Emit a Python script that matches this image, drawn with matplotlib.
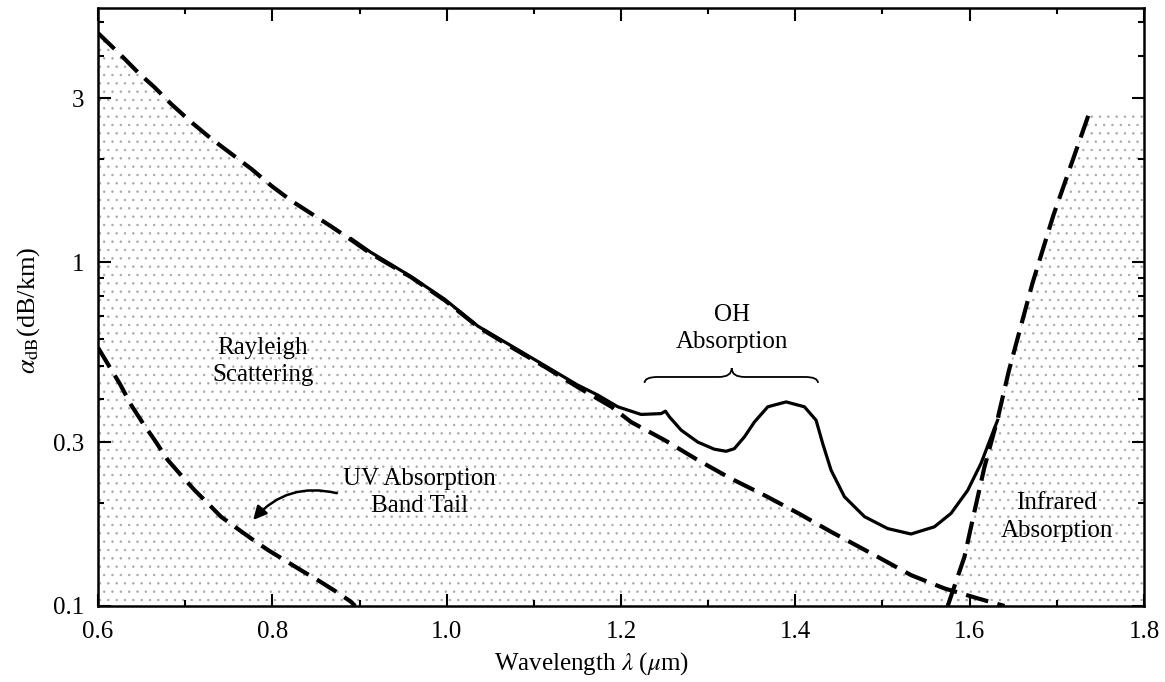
# Fibre loss spectrum: Rayleigh, UV and IR limits plus measured loss
import numpy as np
import matplotlib.pyplot as plt
from matplotlib.path import Path
from matplotlib.patches import PathPatch

plt.rcParams['font.family'] = ['Liberation Serif', 'DejaVu Serif']
plt.rcParams['mathtext.fontset'] = 'stix'
plt.rcParams['hatch.color'] = '#a6a6a6'
plt.rcParams['hatch.linewidth'] = 0.5

# values (wavelength in um, loss in dB/km)
rayleigh_wl = [0.600, 0.625, 0.646, 0.665, 0.684, 0.707, 0.730, 0.753, 0.776, 0.799,
               0.822, 0.845, 0.868, 0.891, 0.913, 0.959, 0.998, 1.036, 1.074, 1.113,
               1.150, 1.189, 1.2116, 1.250, 1.288, 1.326, 1.3646, 1.4037, 1.441,
               1.4945, 1.5327, 1.571, 1.609, 1.640]
rayleigh_db = [4.65, 4.04, 3.57, 3.23, 2.89, 2.56, 2.29, 2.07, 1.87, 1.67,
               1.51, 1.385, 1.27, 1.16, 1.06, 0.906, 0.775, 0.649, 0.567, 0.496,
               0.434, 0.380, 0.343, 0.304, 0.266, 0.235, 0.210, 0.186, 0.1644,
               0.139, 0.123, 0.1125, 0.1053, 0.100]

uv_wl = [0.600, 0.6134, 0.6249, 0.6382, 0.6516, 0.665, 0.680, 0.6955, 0.711, 0.726,
         0.741, 0.757, 0.776, 0.795, 0.814, 0.833, 0.852, 0.871, 0.890, 0.895]
uv_db = [0.565, 0.496, 0.444, 0.384, 0.340, 0.304, 0.266, 0.240, 0.217, 0.199,
         0.182, 0.170, 0.157, 0.1455, 0.136, 0.127, 0.119, 0.111, 0.103, 0.100]

ir_wl = [1.5748, 1.594, 1.605, 1.617, 1.632, 1.645, 1.672, 1.696, 1.719, 1.738]
ir_db = [0.100, 0.139, 0.186, 0.254, 0.350, 0.484, 0.869, 1.37, 2.01, 2.76]

total_wl = [0.891, 0.913, 0.959, 0.998, 1.036, 1.074, 1.113, 1.150, 1.1734, 1.1963,
            1.223, 1.246, 1.251, 1.2556, 1.269, 1.288, 1.307, 1.3206, 1.330, 1.3416,
            1.353, 1.3684, 1.3894, 1.4104, 1.4238, 1.4314, 1.441, 1.4563, 1.4793,
            1.506, 1.5327, 1.5595, 1.5786, 1.5977, 1.613, 1.6245, 1.632]
total_db = [1.17, 1.07, 0.91, 0.78, 0.652, 0.572, 0.500, 0.440, 0.411, 0.380,
            0.361, 0.363, 0.369, 0.355, 0.325, 0.300, 0.286, 0.282, 0.287, 0.3106,
            0.343, 0.380, 0.3926, 0.380, 0.3473, 0.297, 0.2485, 0.208, 0.182,
            0.168, 0.162, 0.170, 0.186, 0.217, 0.260, 0.310, 0.347]

fig = plt.figure(figsize=(11.65, 6.82), dpi=100)
ax = fig.add_axes([98/1165, 1-606/682, 1046/1165, 598/682])
ax.set_yscale('log')
ax.set_xlim(0.6, 1.8)
ax.set_ylim(0.1, 5.5)

# stippled regions
ax.fill_between(rayleigh_wl, 0.1, rayleigh_db, facecolor='none', edgecolor='#a6a6a6',
                hatch='..', linewidth=0, zorder=0)
ax.fill_betweenx(ir_db, ir_wl, 1.8, facecolor='none', edgecolor='#a6a6a6',
                 hatch='..', linewidth=0, zorder=0)

dash = (5.5, 2.3)
ax.plot(rayleigh_wl, rayleigh_db, color='black', lw=3, dashes=dash, zorder=2)
ax.plot(uv_wl, uv_db, color='black', lw=3, dashes=dash, zorder=2)
ax.plot(ir_wl, ir_db, color='black', lw=3, dashes=dash, zorder=2)
ax.plot(total_wl, total_db, color='black', lw=2.3, zorder=3, solid_joinstyle='round')

# labels
fs = 18
ax.text(0.789, 0.515, 'Rayleigh\nScattering', ha='center', va='center', fontsize=fs,
        linespacing=1.3)
ax.text(1.327, 0.643, 'OH\nAbsorption', ha='center', va='center', fontsize=fs,
        linespacing=1.3)
ax.text(1.70, 0.1815, 'Infrared\nAbsorption', ha='center', va='center', fontsize=fs,
        linespacing=1.3)
ax.text(0.969, 0.214, 'UV Absorption\nBand Tail', ha='center', va='center', fontsize=fs,
        linespacing=1.3)
ax.annotate('', xy=(0.778, 0.178), xytext=(0.874, 0.213),
            arrowprops=dict(arrowstyle='-|>', color='black', lw=1.8,
                            connectionstyle='arc3,rad=0.3', shrinkA=0, shrinkB=0,
                            mutation_scale=20))

# curly brace over the OH band
x0, xm, x1 = 1.227, 1.327, 1.426
yl, ye, yt = 0.464, 0.446, 0.492
d = 0.015
verts = [(x0, ye), (x0, yl), (x0 + d, yl), (xm - d, yl), (xm, yl), (xm, yt),
         (xm, yl), (xm + d, yl), (x1 - d, yl), (x1, yl), (x1, ye)]
codes = [Path.MOVETO, Path.CURVE3, Path.CURVE3, Path.LINETO, Path.CURVE3, Path.CURVE3,
         Path.CURVE3, Path.CURVE3, Path.LINETO, Path.CURVE3, Path.CURVE3]
ax.add_patch(PathPatch(Path(verts, codes), facecolor='none', edgecolor='black', lw=1.3))

# axes styling
ax.set_xticks([0.6, 0.8, 1.0, 1.2, 1.4, 1.6, 1.8])
ax.set_xticklabels(['0.6', '0.8', '1.0', '1.2', '1.4', '1.6', '1.8'])
ax.set_xticks(np.arange(0.7, 1.8, 0.2), minor=True)
ax.set_yticks([0.1, 0.3, 1, 3])
ax.set_yticklabels(['0.1', '0.3', '1', '3'])
ax.set_yticks([0.2, 0.4, 0.5, 0.6, 0.7, 0.8, 0.9, 2, 4, 5], minor=True)
ax.yaxis.set_minor_formatter(plt.NullFormatter())
ax.tick_params(which='both', direction='in', top=True, right=True, labelsize=18,
               width=1.5)
ax.tick_params(which='major', length=9)
ax.tick_params(which='minor', length=4.5)
ax.tick_params(axis='x', pad=11)
ax.tick_params(axis='y', pad=10)
for s in ax.spines.values():
    s.set_linewidth(1.8)

ax.set_xlabel(r'Wavelength $\lambda$ ($\mu$m)', fontsize=18)
ax.xaxis.set_label_coords(0.472, -0.074)
ax.set_ylabel(r'$\alpha_{\rm dB}$(dB/km)', fontsize=19)
ax.yaxis.set_label_coords(-0.054, 0.495)

fig.savefig('out.png', dpi=100)
